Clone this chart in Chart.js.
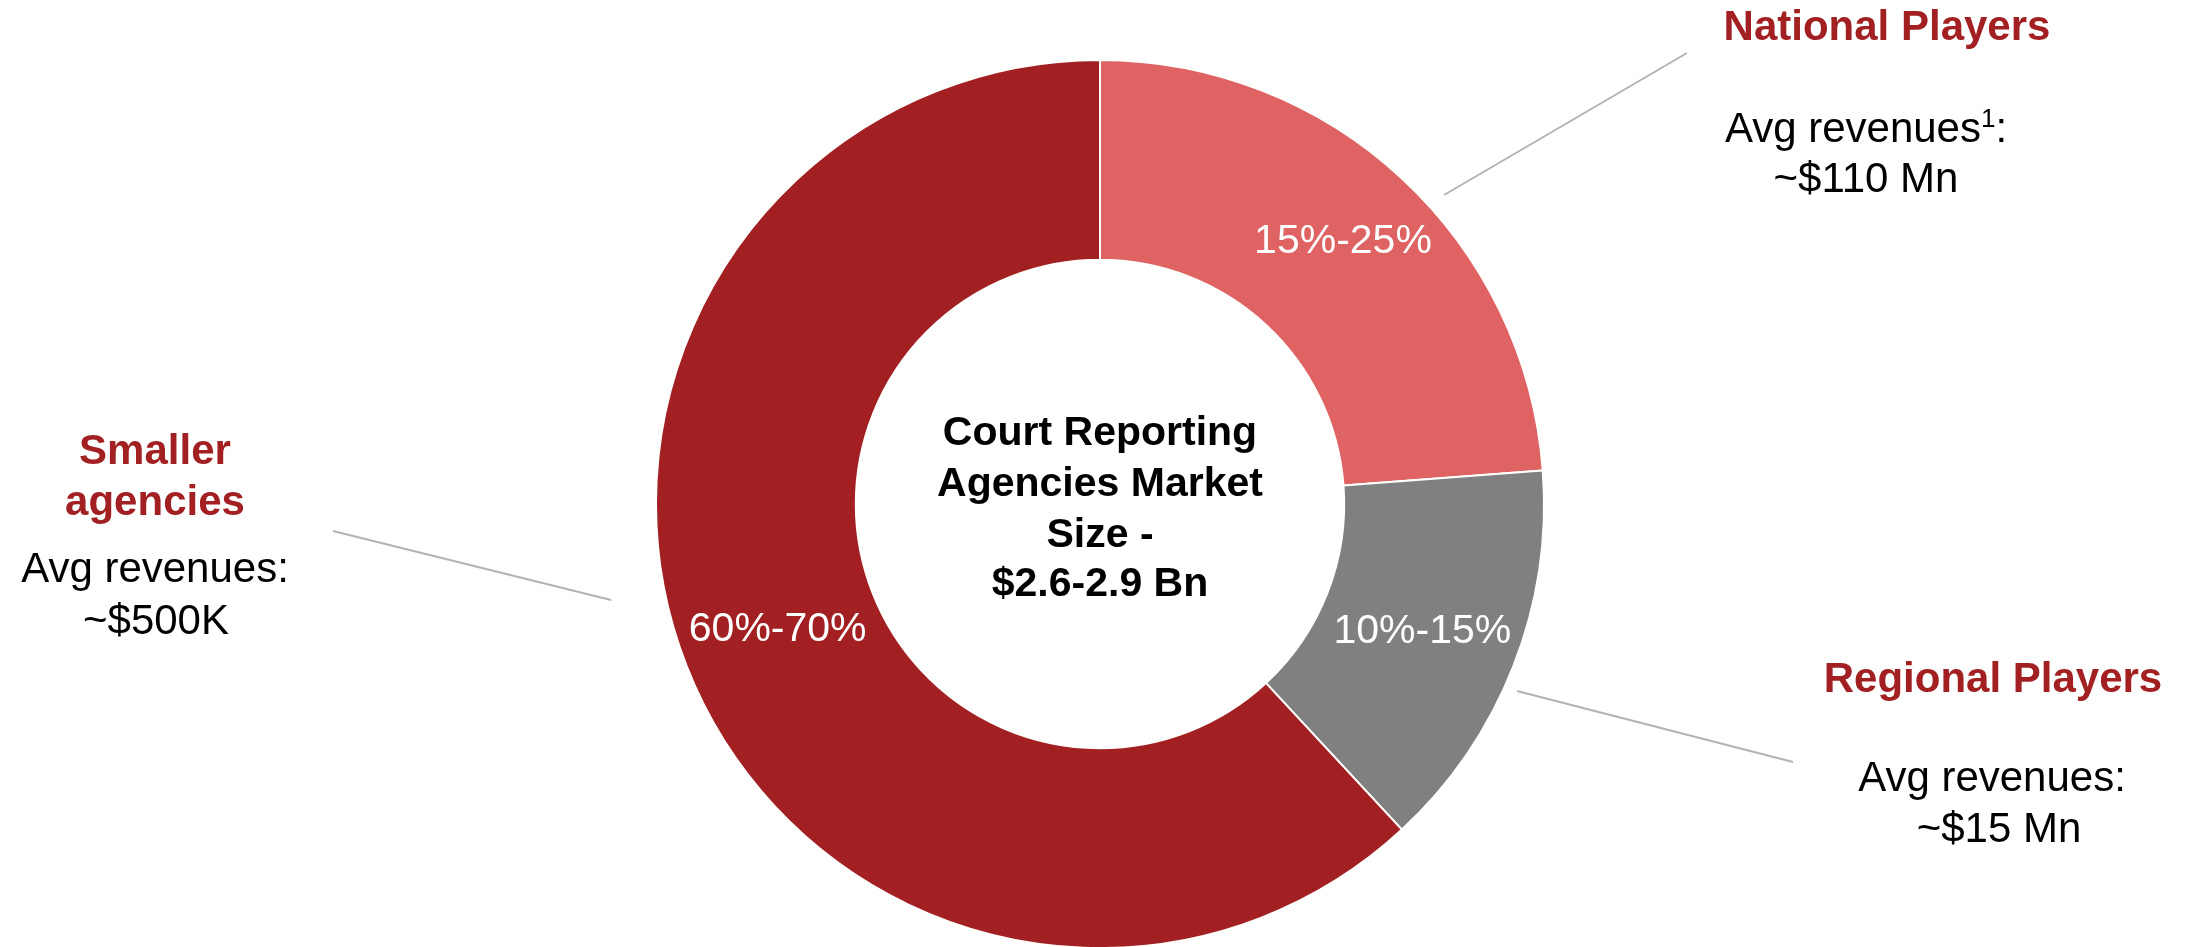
<!DOCTYPE html>
<html>
<head>
<meta charset="utf-8">
<script src="https://cdn.jsdelivr.net/npm/chart.js@4.4.1/dist/chart.umd.min.js"></script>
<style>
    html, body { margin: 0; padding: 0; background: #fff; overflow: hidden; }
    #wrap { position: relative; width: 2188px; height: 947px; font-family: "Liberation Sans", Arial, sans-serif; }
    #chart-box { position: absolute; left: 0; top: 0; width: 2188px; height: 947px; }
    .t { position: absolute; width: 500px; text-align: center; line-height: 50px; font-size: 42px; color: #000; white-space: nowrap; }
    .h { font-weight: bold; color: #A21F22; }
    .c { font-weight: bold; font-size: 41px; }
    .t sup { font-size: 26px; vertical-align: 15px; line-height: 0; }
</style>
</head>
<body>
<div id="wrap">
    <div id="chart-box"><canvas id="marketChart"></canvas></div>
</div>
<script>
// --- data ---
const segments = ['National Players', 'Regional Players', 'Smaller agencies'];
const shares = [23.8, 14.3, 61.9];
const shareLabels = ['15%-25%', '10%-15%', '60%-70%'];
const avgRevenueNotes = ['Avg revenues<sup>1</sup>:', 'Avg revenues:', 'Avg revenues:'];
const avgRevenues = ['~$110 Mn', '~$15 Mn', '~$500K'];
const centerTitle = ['Court Reporting', 'Agencies Market', 'Size -', '$2.6-2.9 Bn'];
const segmentColors = ['#E06363', '#808080', '#A21F22'];

document.addEventListener('DOMContentLoaded', () => {
    const wrap = document.getElementById('wrap');

    // text placed by centre x and baseline y
    const addText = (html, cx, baseline, cls) => {
        const div = document.createElement('div');
        div.className = 't ' + cls;
        div.innerHTML = html;
        div.style.left = (cx - 250) + 'px';
        div.style.top = (baseline - (cls.includes('c') ? 39 : 40)) + 'px';
        wrap.appendChild(div);
    };

    // callout blocks: header lines, then note + value
    const callouts = [
        {head: [segments[0]], headX: 1887, headY: [41], subX: [1866, 1866], subY: [143, 193]},
        {head: [segments[1]], headX: 1993, headY: [693], subX: [1992, 1999], subY: [792, 843]},
        {head: ['Smaller', 'agencies'], headX: 155, headY: [465, 516], subX: [155, 156], subY: [583, 635]}
    ];
    callouts.forEach((c, i) => {
        c.head.forEach((line, k) => addText(line, c.headX, c.headY[k], 'h'));
        addText(avgRevenueNotes[i], c.subX[0], c.subY[0], '');
        addText(avgRevenues[i], c.subX[1], c.subY[1], '');
    });

    const centerBaselines = [445, 496, 547, 596];
    centerTitle.forEach((line, k) => addText(line, 1100, centerBaselines[k], 'c'));

    // leader lines from slice to its callout
    const leaderLines = [
        [1444, 195, 1687, 53],
        [1517, 691, 1793, 762],
        [333, 531, 611, 600]
    ];
    const labelNudge = [[9, -10], [2, 2], [-2, 0]];

    const overlayPlugin = {
        id: 'overlay',
        afterDatasetsDraw(chart) {
            const ctx = chart.ctx;
            const arcs = chart.getDatasetMeta(0).data;
            ctx.save();
            ctx.font = '41px "Liberation Sans", Arial, sans-serif';
            ctx.fillStyle = '#fff';
            ctx.textAlign = 'center';
            ctx.textBaseline = 'middle';
            arcs.forEach((arc, i) => {
                const p = arc.tooltipPosition();
                ctx.fillText(shareLabels[i], p.x + labelNudge[i][0], p.y + labelNudge[i][1]);
            });
            ctx.strokeStyle = '#B3B3B3';
            ctx.lineWidth = 2;
            leaderLines.forEach(l => {
                ctx.beginPath();
                ctx.moveTo(l[0], l[1]);
                ctx.lineTo(l[2], l[3]);
                ctx.stroke();
            });
            ctx.restore();
        }
    };

    new Chart(document.getElementById('marketChart').getContext('2d'), {
        type: 'doughnut',
        data: {
            labels: segments,
            datasets: [{
                data: shares,
                backgroundColor: segmentColors,
                borderColor: '#fff',
                borderWidth: 2
            }]
        },
        options: {
            responsive: true,
            maintainAspectRatio: false,
            animation: false,
            radius: 444,
            cutout: '55%',
            layout: {padding: {left: 12, right: 0, top: 61, bottom: 0}},
            plugins: {legend: {display: false}, tooltip: {enabled: false}}
        },
        plugins: [overlayPlugin]
    });
});
</script>
</body>
</html>
